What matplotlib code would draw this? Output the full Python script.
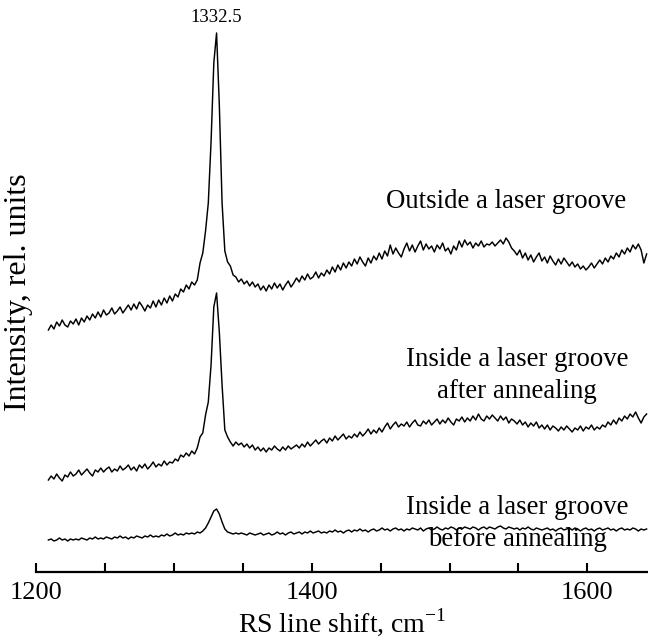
import matplotlib
matplotlib.use('Agg')
import matplotlib.pyplot as plt
import numpy as np

plt.rcParams['font.family'] = ['Liberation Serif', 'DejaVu Serif']
plt.rcParams['mathtext.fontset'] = 'custom'
plt.rcParams['mathtext.rm'] = 'Liberation Serif'

# Raman shift grid, cm^-1 (one point every 2 cm^-1)
shift = np.arange(1209, 1645, 2)

# Outside a laser groove
outside = [
    245, 250, 246, 253, 249, 255, 250, 248, 254, 251,
    256, 250, 257, 253, 259, 255, 261, 257, 263, 258,
    265, 260, 262, 267, 261, 264, 268, 262, 266, 270,
    265, 271, 266, 273, 269, 264, 270, 267, 274, 268,
    275, 270, 277, 272, 279, 274, 281, 278, 286, 283,
    290, 286, 293, 290, 295, 312, 322, 344, 372, 433,
    512, 542, 470, 372, 324, 313, 309, 300, 298, 293,
    296, 291, 294, 289, 293, 288, 291, 285, 289, 284,
    290, 286, 292, 287, 291, 285, 290, 294, 288, 292,
    297, 293, 299, 295, 301, 296, 298, 303, 297, 302,
    299, 305, 301, 308, 303, 310, 305, 312, 307, 313,
    309, 316, 311, 318, 313, 309, 317, 312, 319, 315,
    322, 316, 324, 319, 330, 321, 327, 322, 318, 326,
    332, 324, 330, 323, 329, 334, 325, 331, 326, 329,
    323, 330, 326, 332, 324, 327, 321, 329, 325, 334,
    328, 335, 330, 333, 327, 332, 329, 334, 328, 331,
    330, 333, 329, 332, 335, 331, 337, 333, 327, 324,
    320, 325, 317, 322, 315, 320, 313, 318, 322, 314,
    318, 312, 319, 314, 310, 316, 311, 317, 313, 309,
    313, 308, 311, 306, 309, 305, 308, 312, 307, 311,
    315, 311, 317, 313, 319, 316, 322, 318, 325, 321,
    327, 323, 330, 326, 331, 325, 312, 321,
]

# Inside a laser groove after annealing
after = [
    95, 99, 96, 101, 97, 94, 100, 98, 103, 99,
    101, 105, 100, 103, 106, 102, 99, 105, 103, 107,
    103, 106, 108, 103, 106, 104, 109, 105, 107, 110,
    105, 108, 104, 110, 107, 111, 106, 109, 113, 108,
    111, 109, 114, 110, 113, 112, 116, 114, 120, 118,
    122, 119, 124, 121, 127, 138, 142, 160, 173, 210,
    268, 282, 243, 190, 145, 138, 133, 129, 133, 130,
    132, 128, 131, 127, 130, 125, 128, 124, 127, 123,
    127, 125, 129, 126, 124, 128, 125, 129, 126, 128,
    130, 127, 131, 128, 133, 129, 132, 135, 131, 134,
    136, 132, 137, 134, 139, 135, 138, 141, 136, 139,
    137, 141, 138, 143, 139, 142, 146, 141, 145, 142,
    147, 143, 148, 152, 146, 150, 153, 148, 151, 149,
    153, 148, 152, 155, 150, 149, 154, 151, 155, 150,
    153, 156, 151, 155, 152, 157, 153, 150, 156, 154,
    158, 153, 157, 154, 159, 155, 161, 156, 154, 159,
    156, 160, 157, 154, 159, 155, 158, 152, 156, 154,
    151, 155, 150, 153, 148, 152, 149, 153, 147, 150,
    146, 150, 145, 149, 147, 144, 148, 145, 149, 146,
    143, 147, 145, 149, 144, 148, 146, 150, 145, 148,
    146, 150, 148, 153, 150, 155, 151, 157, 154, 159,
    156, 161, 158, 163, 157, 152, 158, 161,
]

# Inside a laser groove before annealing
before = [
    35, 36, 34, 35, 37, 35, 36, 34, 36, 35,
    36, 35, 37, 36, 35, 37, 36, 38, 36, 37,
    36, 38, 37, 36, 38, 37, 39, 37, 38, 36,
    38, 37, 39, 38, 37, 39, 38, 40, 38, 39,
    38, 40, 39, 41, 39, 40, 42, 40, 41, 40,
    42, 41, 42, 41, 43, 42, 44, 47, 52, 58,
    64, 66, 61, 53, 46, 43, 42, 41, 42, 41,
    42, 41, 40, 42, 41, 40, 41, 42, 40, 41,
    42, 40, 41, 43, 41, 42, 40, 42, 43, 41,
    42, 43, 41, 43, 42, 44, 42, 43, 44, 42,
    43, 42, 44, 43, 45, 43, 44, 42, 44, 45,
    43, 45, 44, 46, 44, 45, 43, 45, 46, 44,
    45, 47, 45, 46, 44, 46, 47, 45, 46, 44,
    46, 45, 47, 46, 45, 47, 44, 46, 47, 45,
    46, 48, 46, 45, 47, 46, 48, 47, 45, 47,
    46, 48, 47, 46, 48, 47, 45, 47, 48, 46,
    48, 47, 46, 48, 49, 47, 46, 48, 47, 46,
    47, 45, 47, 46, 48, 46, 45, 47, 46, 45,
    46, 47, 45, 46, 44, 46, 47, 45, 46, 47,
    45, 47, 46, 44, 46, 47, 45, 46, 44, 46,
    47, 45, 46, 47, 45, 46, 44, 46, 47, 45,
    46, 45, 47, 46, 44, 46, 45, 46,
]

peak_label = '1332.5'
labels = [
    ('Outside a laser groove', 1541, 373),
    ('Inside a laser groove', 1549, 216),
    ('after annealing', 1549, 183),
    ('Inside a laser groove', 1549, 67),
    ('before annealing', 1549, 35),
]

fig = plt.figure(figsize=(6.48, 6.40), dpi=100)
ax = fig.add_axes([36 / 648, 68 / 640, 612 / 648, 572 / 640])

for series in (outside, after, before):
    ax.plot(shift, series, color='black', linewidth=1.05)

ax.set_xlim(1200, 1644)
ax.set_ylim(3, 575)

for text, x, y in labels:
    ax.text(x, y, text, fontsize=19.3, ha='center', va='center')
ax.text(1330.5, 557, peak_label, fontsize=13.5, ha='center', va='center')

for side in ('left', 'right', 'top'):
    ax.spines[side].set_visible(False)
ax.spines['bottom'].set_linewidth(1.6)

ax.set_xticks([1200, 1400, 1600])
ax.set_xticks(np.arange(1250, 1650, 50), minor=True)
ax.tick_params(axis='x', which='both', direction='in', length=6.5, width=1.5,
               labelsize=19, pad=7)
ax.set_yticks([])

ax.set_xlabel('RS line shift, cm$^{\\mathregular{-1}}$', fontsize=20, labelpad=2)
ax.set_ylabel('Intensity, rel. units', fontsize=23, va='center')
ax.yaxis.set_label_coords(-17 / 612, 280 / 572)

fig.savefig('out.png', dpi=100)
